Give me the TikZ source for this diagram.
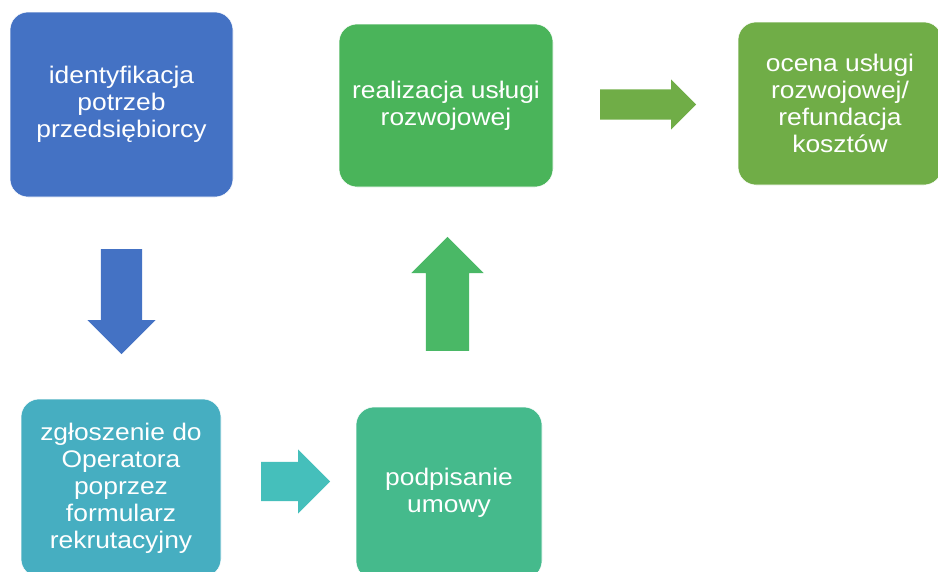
\documentclass[tikz,border=0pt]{standalone}
\usepackage{fontspec}
\setmainfont{Liberation Sans}[FakeStretch=1.1]
\usetikzlibrary{shapes.arrows}
\definecolor{cblue}{HTML}{4472C4}
\definecolor{cteal}{HTML}{46AEC1}
\definecolor{cmint}{HTML}{45BA8C}
\definecolor{cgreen}{HTML}{4AB45A}
\definecolor{colive}{HTML}{70AD47}
\definecolor{aTeal}{HTML}{45BFBB}
\definecolor{aGreen}{HTML}{4AB866}

\tikzset{bx/.style={ rectangle, rounded corners=18pt, draw=white, line width=0.6pt, text=white, align=center, inner sep=0pt,
  font=\fontsize{24}{27}\selectfont}}
\tikzset{ar/.style={ single arrow, single arrow tip angle=90, anchor=tail}}

\begin{document}
\begin{tikzpicture}[x=1pt, y=-1pt]
\useasboundingbox (0,0) rectangle (938,571);
\clip (0,0) rectangle (938,571);
\node[bx, fill=cblue, minimum width=223pt, minimum height=185pt] (ident) at (121.5,104.5) {identyfikacja\\potrzeb\\przedsiębiorcy};
\node[bx, fill=cgreen, minimum width=214pt, minimum height=163pt] (real) at (446,105.5) {realizacja usługi\\rozwojowej};
\node[bx, fill=colive, minimum width=204pt, minimum height=163pt] (ocena) at (840,103.5) {ocena usługi\\rozwojowej/\\refundacja\\kosztów};
\node[bx, fill=cteal, minimum width=200pt, minimum height=178pt] (zgl) at (121,488) {zgłoszenie do\\Operatora\\poprzez\\formularz\\rekrutacyjny};
\node[bx, fill=cmint, minimum width=186pt, minimum height=172pt] (podp) at (449,493) {podpisanie\\umowy};
% arrows between the steps
\node[ar, fill=cblue, shape border rotate=270, inner sep=20.5pt, single arrow head extend=13.5pt, minimum height=105pt] (a1) at (121.5,249) {};
\node[ar, fill=aTeal, inner sep=19.5pt, single arrow head extend=12.5pt, minimum height=69pt] (a2) at (261,481.5) {};
\node[ar, fill=aGreen, shape border rotate=90, inner sep=21.5pt, single arrow head extend=14.5pt, minimum height=114pt] (a3) at (447.5,351) {};
\node[ar, fill=colive, inner sep=15pt, single arrow head extend=10pt, minimum height=96pt] (a4) at (600,104.5) {};
\end{tikzpicture}
\end{document}
